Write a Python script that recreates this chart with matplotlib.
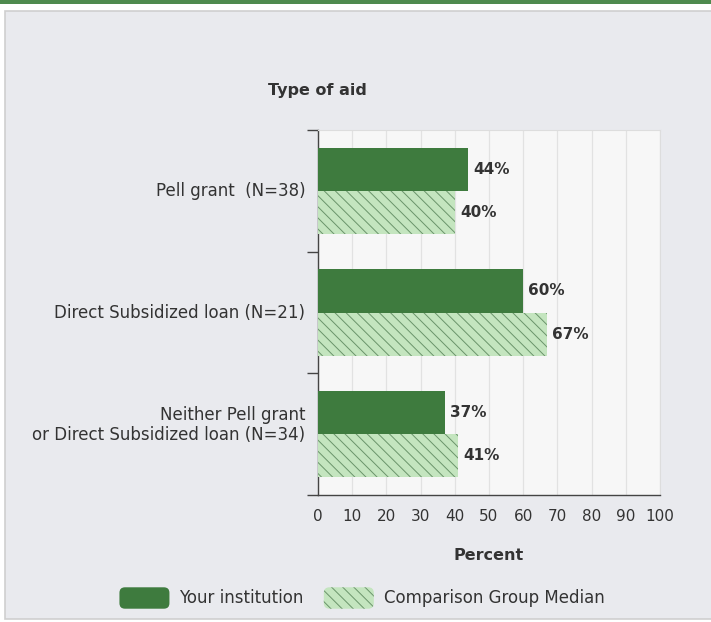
import matplotlib
matplotlib.use("Agg")
import matplotlib.pyplot as plt
from matplotlib.patches import Rectangle, Patch, FancyBboxPatch
from matplotlib.legend_handler import HandlerPatch
import numpy as np

# données
categories = ["Pell grant  (N=38)", "Direct Subsidized loan (N=21)",
              "Neither Pell grant\nor Direct Subsidized loan (N=34)"]
institution = [44, 60, 37]
comparison = [40, 67, 41]
xticks = [0, 10, 20, 30, 40, 50, 60, 70, 80, 90, 100]

dark = "#3e7b3e"
light = "#c4e5bf"
hatch_col = "#6a946a"
txt = "#333333"

plt.rcParams['font.family'] = ['DejaVu Sans']
plt.rcParams['hatch.linewidth'] = 0.7

W, H = 711, 622
fig = plt.figure(figsize=(W / 100, H / 100), dpi=100, facecolor="white")

# bandeau vert + panneau gris
fig.patches.append(Rectangle((0, 1 - 4 / H), 1, 4 / H, transform=fig.transFigure,
                             facecolor="#4e8a4e", edgecolor="none", zorder=-5))
fig.patches.append(Rectangle((5 / W, 3 / H), 1.0, (H - 14) / H, transform=fig.transFigure,
                             facecolor="#e9eaee", edgecolor="#cfcfcf", linewidth=1.2, zorder=-5))

ax = fig.add_axes([318 / W, 127 / H, 342 / W, 365 / H])
ax.set_zorder(2)
ax.set_facecolor("#f7f7f7")

y = np.arange(len(categories))
h = 0.355
ax.barh(y - h / 2, institution, height=h, color=dark, edgecolor="none", zorder=3)
ax.barh(y + h / 2, comparison, height=h, facecolor=light, edgecolor=hatch_col, linewidth=0,
        hatch="\\\\\\", zorder=3)

for i in range(len(categories)):
    ax.text(institution[i] + 1.5, y[i] - h / 2, f"{institution[i]}%", va="center", ha="left",
            fontsize=11, fontweight="bold", color=txt)
    ax.text(comparison[i] + 1.5, y[i] + h / 2, f"{comparison[i]}%", va="center", ha="left",
            fontsize=11, fontweight="bold", color=txt)

# libellés des catégories (remontés d'une demi-ligne par ligne supplémentaire)
for i, lab in enumerate(categories):
    n = lab.count("\n")
    ax.annotate(lab, xy=(0, y[i]), xycoords=("axes fraction", "data"),
                xytext=(-9, n * 6.5), textcoords="offset points",
                ha="right", va="center", fontsize=12, color=txt, linespacing=1.1)

ax.set_xlim(0, 100)
ax.set_ylim(len(categories) - 0.5, -0.5)
ax.set_xticks(xticks)
ax.set_xticklabels([str(v) for v in xticks], fontsize=11, color=txt)
ax.tick_params(axis="x", length=0, pad=10)

ax.set_yticks(np.arange(len(categories) + 1) - 0.5)
ax.set_yticklabels([])
ax.tick_params(axis="y", which="major", length=8, width=1, color="#444444")

ax.grid(axis="x", color="#e2e2e2", linewidth=0.9, zorder=0)
ax.set_axisbelow(True)
for s in ["top", "right"]:
    ax.spines[s].set_color("#dddddd")
for s in ["left", "bottom"]:
    ax.spines[s].set_color("#444444")
    ax.spines[s].set_linewidth(1)

fig.text(317 / W, 1 - 90 / H, "Type of aid", ha="center", va="center",
         fontsize=11.5, fontweight="bold", color=txt)
fig.text(489 / W, 1 - 555 / H, "Percent", ha="center", va="center",
         fontsize=11.5, fontweight="bold", color=txt)


def boite_arrondie(legend, orig_handle, xdescent, ydescent, width, height, fontsize):
    return FancyBboxPatch((-xdescent, -ydescent), width, height,
                          boxstyle="round,pad=0,rounding_size=4")


handles = [Patch(facecolor=dark, edgecolor="none", label="Your institution"),
           Patch(facecolor=light, edgecolor=hatch_col, linewidth=0, hatch="\\\\\\",
                 label="Comparison Group Median")]
fig.legend(handles=handles, loc="center", bbox_to_anchor=(362 / W, 1 - 598 / H), ncol=2,
           frameon=False, fontsize=12, labelcolor=txt, handlelength=3.0, handleheight=1.6,
           handletextpad=0.6, columnspacing=1.2,
           handler_map={Patch: HandlerPatch(patch_func=boite_arrondie)})

fig.savefig("out.png", dpi=100, facecolor=fig.get_facecolor())
